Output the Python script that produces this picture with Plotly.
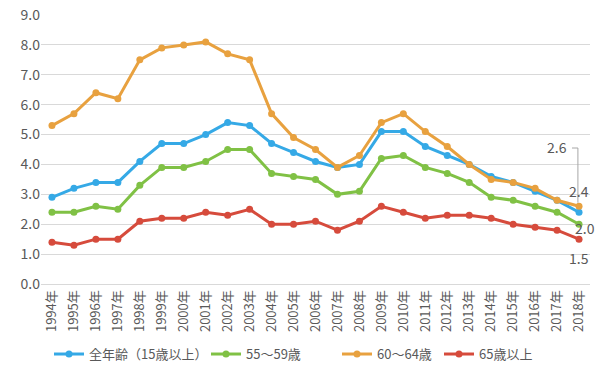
import plotly.graph_objects as go

years = [f"{y}年" for y in range(1994, 2019)]
all_ages = [2.9, 3.2, 3.4, 3.4, 4.1, 4.7, 4.7, 5.0, 5.4, 5.3, 4.7, 4.4, 4.1, 3.9, 4.0, 5.1, 5.1, 4.6, 4.3, 4.0, 3.6, 3.4, 3.1, 2.8, 2.4]
age_55_59 = [2.4, 2.4, 2.6, 2.5, 3.3, 3.9, 3.9, 4.1, 4.5, 4.5, 3.7, 3.6, 3.5, 3.0, 3.1, 4.2, 4.3, 3.9, 3.7, 3.4, 2.9, 2.8, 2.6, 2.4, 2.0]
age_60_64 = [5.3, 5.7, 6.4, 6.2, 7.5, 7.9, 8.0, 8.1, 7.7, 7.5, 5.7, 4.9, 4.5, 3.9, 4.3, 5.4, 5.7, 5.1, 4.6, 4.0, 3.5, 3.4, 3.2, 2.8, 2.6]
age_65_up = [1.4, 1.3, 1.5, 1.5, 2.1, 2.2, 2.2, 2.4, 2.3, 2.5, 2.0, 2.0, 2.1, 1.8, 2.1, 2.6, 2.4, 2.2, 2.3, 2.3, 2.2, 2.0, 1.9, 1.8, 1.5]
names = ["全年齢（15歳以上）", "55～59歳", "60～64歳", "65歳以上"]
colors = ["#35A9E6", "#80C145", "#E8A13F", "#D64B3C"]
series = [all_ages, age_55_59, age_60_64, age_65_up]

FONT = "Noto Sans CJK JP"
GREY = "#595959"

legend_ids = ["legend", "legend2", "legend3", "legend4"]
legend_x_px = [49, 206, 337, 439]

fig = go.Figure()
for n, c, s, lid in zip(names, colors, series, legend_ids):
    fig.add_trace(go.Scatter(x=years, y=s, name=n, mode="lines+markers",
                             line=dict(color=c, width=3),
                             marker=dict(color=c, size=7), cliponaxis=False,
                             legend=lid))

anns = [
    dict(x=23.0, y=4.58, text="2.6"),
    dict(x=24.0, y=3.10, text="2.4"),
    dict(x=24.27, y=1.87, text="2.0"),
    dict(x=24.0, y=0.87, text="1.5"),
]
for a in anns:
    fig.add_annotation(x=a["x"], y=a["y"], text=a["text"], showarrow=False,
                       xref="x", yref="y", font=dict(size=14, color=GREY, family=FONT))

fig.add_shape(type="line", x0=23.68, x1=23.95, y0=4.55, y1=4.55, xref="x", yref="y",
              line=dict(color="#A6A6A6", width=1))
fig.add_shape(type="line", x0=23.95, x1=23.95, y0=4.55, y1=2.72, xref="x", yref="y",
              line=dict(color="#A6A6A6", width=1))

leg_common = dict(orientation="h", xref="container", yref="container", xanchor="left",
                  y=0.103, yanchor="top", font=dict(size=13, color=GREY, family=FONT),
                  itemwidth=30, bgcolor="rgba(0,0,0,0)")
layout_legends = {}
for lid, px in zip(legend_ids, legend_x_px):
    layout_legends[lid] = dict(leg_common, x=px / 606)

fig.update_layout(
    width=606, height=378,
    margin=dict(l=41, r=16, t=15, b=94, autoexpand=False),
    plot_bgcolor="white", paper_bgcolor="white",
    font=dict(family=FONT, size=13, color=GREY),
    showlegend=True,
    xaxis=dict(type="category", tickangle=-90, showgrid=False, showline=True,
               linecolor="#D9D9D9", ticks="", tickfont=dict(size=13, color=GREY),
               range=[-0.5, 24.5], automargin=False),
    yaxis=dict(range=[0, 9], dtick=1, tickformat=".1f", showgrid=True,
               gridcolor="#D9D9D9", zeroline=True, zerolinecolor="#D9D9D9",
               ticks="", tickfont=dict(size=14, color=GREY), automargin=False),
    **layout_legends,
)

fig.write_html("out.html", post_script="document.body.style.margin='0';",
               config={"displayModeBar": False})
